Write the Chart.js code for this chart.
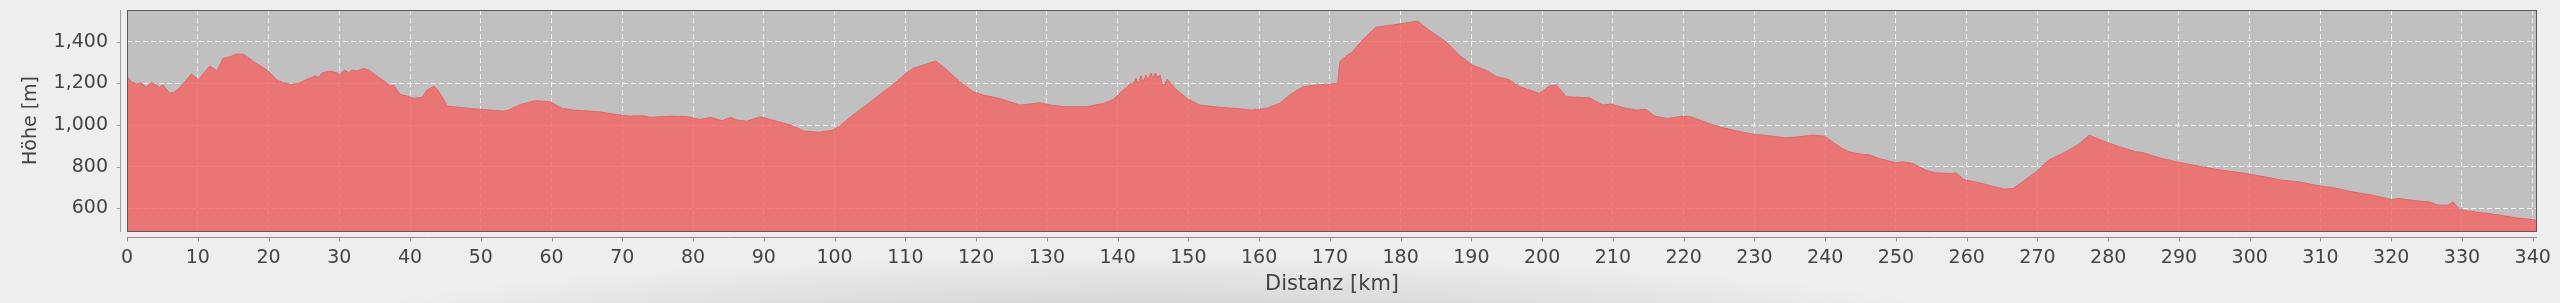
<!DOCTYPE html>
<html>
<head>
<meta charset="utf-8">
<title>Höhenprofil</title>
<script src="https://cdn.jsdelivr.net/npm/chart.js@4/dist/chart.umd.min.js"></script>
<style>
    html, body {
        margin: 0;
        padding: 0;
        background: #eeeeee;
    }
    body {
        width: 2560px;
        height: 303px;
        overflow: hidden;
        background:
            radial-gradient(ellipse 820px 70px at 1150px 325px, rgba(0, 0, 0, 0.14), rgba(0, 0, 0, 0) 100%),
            #eeeeee;
    }
    #chartWrap {
        position: relative;
        width: 2560px;
        height: 303px;
    }
</style>
</head>
<body>
<div id="chartWrap">
    <canvas id="profileChart" width="2560" height="303"></canvas>
</div>

<script>
// Distance along the route [km]
const distances = [
    0, 0.6, 1.4, 1.9, 2.7, 3.5, 3.9, 4.6, 5.1, 6.0, 6.6, 7.5, 9.1, 10.1, 11.0, 11.7, 12.7,
    13.6, 14.6, 15.5, 16.5, 17.9, 19.8, 21.2, 22.1, 23.3, 24.2, 25.4, 26.6, 27.1, 27.6, 28.7,
    29.7, 30.1, 30.7, 31.3, 31.8, 32.5, 33.4, 34.2, 35.3, 36.7, 37.2, 37.7, 38.6, 39.6, 40.5,
    41.7, 42.4, 43.4, 44.1, 45.3, 46.2, 48.5, 53.2, 53.9, 55.6, 57.7, 59.8, 61.5, 63.1, 66.7,
    69.2, 71.1, 73.0, 74.0, 76.8, 79.2, 81.0, 82.5, 84.1, 85.3, 86.2, 87.6, 89.5, 90.9, 93.8,
    95.7, 97.9, 99.8, 100.7, 102.6, 104.5, 106.1, 108.0, 110.1, 111.1, 113.0, 114.3, 115.8,
    117.7, 119.6, 121.0, 123.3, 126.2, 127.6, 129.0, 130.9, 132.8, 135.6, 138.0, 139.4, 140.8,
    141.3, 141.8, 142.2, 142.6, 142.9, 143.3, 143.6, 144.0, 144.3, 144.7, 145.0, 145.3, 145.7,
    146.0, 146.3, 146.6, 147.0, 147.4, 148.1, 149.8, 151.6, 154.5, 156.8, 158.9, 161.0, 162.9,
    164.3, 166.2, 168.0, 171.1, 171.4, 172.3, 173.2, 174.6, 176.5, 179.8, 182.4, 184.0, 186.4,
    188.3, 190.1, 192.0, 193.6, 195.3, 196.7, 199.6, 201.0, 202.0, 203.4, 206.7, 208.6, 209.7,
    211.9, 213.3, 214.7, 215.9, 217.7, 219.9, 221.0, 223.6, 225.0, 227.4, 229.7, 232.6, 234.4,
    236.3, 238.2, 239.9, 242.0, 243.4, 245.3, 246.2, 247.6, 250.0, 250.9, 252.4, 254.2, 255.6,
    258.0, 258.5, 259.6, 261.8, 263.6, 265.3, 266.5, 267.9, 269.8, 271.6, 274.0, 275.9, 277.3,
    279.2, 281.6, 283.9, 284.8, 287.2, 290.0, 293.3, 295.7, 300.0, 304.6, 307.0, 310.0, 311.7,
    314.5, 317.4, 320.0, 321.1, 323.5, 325.4, 326.6, 328.0, 328.7, 329.7, 330.6, 333.0, 335.4,
    337.7, 340.0, 340.6
];

// Elevation at each distance [m]
const elevations = [
    1235, 1208, 1197, 1203, 1184, 1203, 1197, 1181, 1192, 1155, 1155, 1181, 1245, 1219, 1256, 1283, 1261,
    1320, 1328, 1341, 1339, 1304, 1264, 1216, 1203, 1195, 1200, 1219, 1235, 1229, 1251, 1259,
    1251, 1240, 1264, 1251, 1264, 1259, 1272, 1264, 1235, 1203, 1187, 1192, 1147, 1139, 1128,
    1133, 1168, 1187, 1160, 1091, 1088, 1080, 1067, 1072, 1099, 1117, 1112, 1080, 1072, 1064,
    1051, 1043, 1045, 1037, 1043, 1040, 1027, 1037, 1021, 1037, 1024, 1019, 1040, 1027, 1000,
    971, 966, 976, 995, 1048, 1096, 1139, 1187, 1248, 1272, 1293, 1307, 1267,
    1208, 1160, 1144, 1128, 1096, 1101, 1107, 1094, 1088, 1088, 1104, 1123, 1168,
    1180, 1200, 1195, 1225, 1200, 1235, 1205, 1240, 1215, 1250, 1225, 1250, 1230,
    1240, 1200, 1190, 1220, 1205, 1176, 1128, 1096, 1085, 1080, 1072, 1080, 1104,
    1144, 1184, 1192, 1200, 1304, 1331, 1352, 1408, 1469, 1485, 1499, 1456, 1400,
    1336, 1288, 1264, 1232, 1219, 1186, 1152, 1187, 1192, 1136, 1131, 1096, 1101,
    1080, 1072, 1075, 1043, 1032, 1043, 1040, 1008, 992, 973, 957, 947, 939,
    944, 952, 947, 896, 872, 859, 858, 840, 819, 824, 816, 784, 771,
    768, 771, 739, 723, 707, 693, 696, 728, 776, 832, 872, 909, 952,
    925, 896, 872, 869, 843, 821, 800, 786, 765, 736, 728, 707, 701,
    680, 664, 643, 648, 637, 632, 616, 616, 632, 595, 589, 579, 568,
    555, 547, 541
];

// Axis ticks
const yTicks = [600, 800, 1000, 1200, 1400];
const xTicks = [0, 10, 20, 30, 40, 50, 60, 70, 80, 90, 100, 110, 120, 130, 140, 150, 160, 170,
    180, 190, 200, 210, 220, 230, 240, 250, 260, 270, 280, 290, 300, 310, 320, 330, 340];

const X_TITLE = 'Distanz [km]';
const Y_TITLE = 'Höhe [m]';

const FONT = "'DejaVu Sans', 'Liberation Sans', sans-serif";
const TEXT_COLOR = '#444444';

// Plot background, frame and the detached axis lines (JFreeChart look)
const plotFrame = {
    id: 'plotFrame',
    beforeDraw(chart) {
        const { ctx, chartArea: a } = chart;
        ctx.save();
        ctx.fillStyle = '#c0c0c0';
        ctx.fillRect(a.left, a.top, a.right - a.left, a.bottom - a.top);
        // light strip between plot and x axis
        ctx.fillStyle = '#f4e8ec';
        ctx.fillRect(a.left, a.bottom, a.right - a.left, 6);
        ctx.restore();
    },
    afterDraw(chart) {
        const { ctx, chartArea: a, scales } = chart;
        ctx.save();

        // plot border
        ctx.strokeStyle = '#5a5a5a';
        ctx.lineWidth = 1;
        ctx.strokeRect(a.left + 0.5, a.top + 0.5, a.right - a.left - 1, a.bottom - a.top);

        // y axis line, offset to the left
        const ax = a.left - 6.5;
        ctx.strokeStyle = '#a0a0a0';
        ctx.beginPath();
        ctx.moveTo(ax, a.top);
        ctx.lineTo(ax, a.bottom + 1);
        yTicks.forEach(v => {
            const y = Math.round(scales.y.getPixelForValue(v)) + 0.5;
            ctx.moveTo(ax, y);
            ctx.lineTo(ax - 4, y);
        });
        ctx.stroke();

        // x axis line, offset below
        const ay = a.bottom + 6.5;
        ctx.strokeStyle = '#909090';
        ctx.beginPath();
        ctx.moveTo(a.left, ay);
        ctx.lineTo(a.right, ay);
        xTicks.forEach(v => {
            const x = Math.round(scales.x.getPixelForValue(v)) + 0.5;
            ctx.moveTo(x, ay);
            ctx.lineTo(x, ay + 4);
        });
        ctx.stroke();

        ctx.restore();
    }
};

function buildProfileChart() {
    const ctx = document.getElementById('profileChart');
    const points = distances.map((d, i) => ({ x: d, y: elevations[i] }));

    return new Chart(ctx.getContext('2d'), {
        type: 'line',
        data: {
            datasets: [{
                label: Y_TITLE,
                data: points,
                borderColor: 'rgba(225, 100, 100, 0.9)',
                borderWidth: 1,
                backgroundColor: 'rgba(241, 105, 105, 0.86)',
                fill: 'start',
                tension: 0,
                pointRadius: 0
            }]
        },
        options: {
            responsive: false,
            animation: false,
            events: [],
            layout: {
                padding: { top: 10, right: 23, bottom: 0, left: 0 }
            },
            plugins: {
                legend: { display: false },
                tooltip: { enabled: false }
            },
            scales: {
                x: {
                    type: 'linear',
                    min: 0,
                    max: 340.6,
                    afterFit(scale) {
                        scale.height = 72;
                        scale.paddingLeft = 0;
                        scale.paddingRight = 0;
                    },
                    afterBuildTicks(scale) {
                        scale.ticks = xTicks.map(v => ({ value: v }));
                    },
                    grid: {
                        color: 'rgba(255, 255, 255, 0.8)',
                        lineWidth: 1,
                        drawTicks: false
                    },
                    border: { display: false, dash: [5, 3] },
                    ticks: {
                        color: TEXT_COLOR,
                        font: { family: FONT, size: 19 },
                        padding: 16,
                        maxRotation: 0,
                        autoSkip: false
                    },
                    title: {
                        display: true,
                        text: X_TITLE,
                        color: TEXT_COLOR,
                        font: { family: FONT, size: 21 },
                        padding: { top: 0, bottom: 6 }
                    }
                },
                y: {
                    type: 'linear',
                    min: 492,
                    max: 1552,
                    afterFit(scale) {
                        scale.width = 127;
                        scale.paddingTop = 0;
                        scale.paddingBottom = 0;
                    },
                    afterBuildTicks(scale) {
                        scale.ticks = yTicks.map(v => ({ value: v }));
                    },
                    grid: {
                        color: 'rgba(255, 255, 255, 0.8)',
                        lineWidth: 1,
                        drawTicks: false
                    },
                    border: { display: false, dash: [5, 3] },
                    ticks: {
                        color: TEXT_COLOR,
                        font: { family: FONT, size: 19 },
                        padding: 19,
                        callback: v => v.toLocaleString('en-US')
                    },
                    title: {
                        display: true,
                        text: Y_TITLE,
                        color: TEXT_COLOR,
                        font: { family: FONT, size: 19 },
                        padding: { top: 20, bottom: 20 }
                    }
                }
            }
        },
        plugins: [plotFrame]
    });
}

document.addEventListener('DOMContentLoaded', function() {
    window.profileChart = buildProfileChart();
});
</script>
</body>
</html>
